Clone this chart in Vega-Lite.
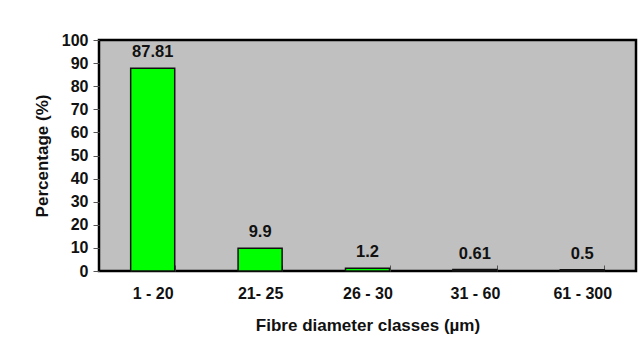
{
  "$schema": "https://vega.github.io/schema/vega-lite/v6.json",
  "width": 537,
  "height": 231,
  "autosize": "none",
  "padding": {"left": 99, "top": 40, "right": 2, "bottom": 76},
  "background": "white",
  "data": {"values": [
    {"cls": "1 - 20", "pct": 87.81, "lab": "87.81"},
    {"cls": "21- 25", "pct": 9.9, "lab": "9.9"},
    {"cls": "26 - 30", "pct": 1.2, "lab": "1.2"},
    {"cls": "31 - 60", "pct": 0.61, "lab": "0.61"},
    {"cls": "61 - 300", "pct": 0.5, "lab": "0.5"}
  ]},
  "encoding": {
    "x": {"field": "cls", "type": "nominal", "sort": null,
      "scale": {"paddingInner": 0.59, "paddingOuter": 0.295},
      "axis": {"title": "Fibre diameter classes (µm)", "labelAngle": 0, "domain": false,
        "tickBand": "extent", "tickSize": -6, "tickColor": "#555", "tickWidth": 1,
        "labelPadding": 20, "titlePadding": 16}},
    "y": {"field": "pct", "type": "quantitative",
      "scale": {"domain": [0, 100], "nice": false},
      "axis": {"title": "Percentage (%)", "values": [0,10,20,30,40,50,60,70,80,90,100],
        "grid": false, "domain": false, "tickSize": 6, "tickColor": "#555", "labelPadding": 5, "titlePadding": 10}}
  },
  "layer": [
    {"mark": {"type": "bar", "fill": "#00ff00", "stroke": "#111", "strokeWidth": 1.5}},
    {"mark": {"type": "text", "baseline": "alphabetic", "dy": -11, "font": "Liberation Sans", "fontWeight": "bold", "fontSize": 16.5, "color": "#111"},
      "encoding": {"text": {"field": "lab"}}}
  ],
  "config": {
    "view": {"fill": "#c0c0c0", "stroke": "#000", "strokeWidth": 2.5},
    "axis": {"labelFont": "Liberation Sans", "labelFontWeight": "bold", "labelFontSize": 16, "labelColor": "#111",
      "titleFont": "Liberation Sans", "titleFontWeight": "bold", "titleFontSize": 17, "titleColor": "#111"}
  }
}
